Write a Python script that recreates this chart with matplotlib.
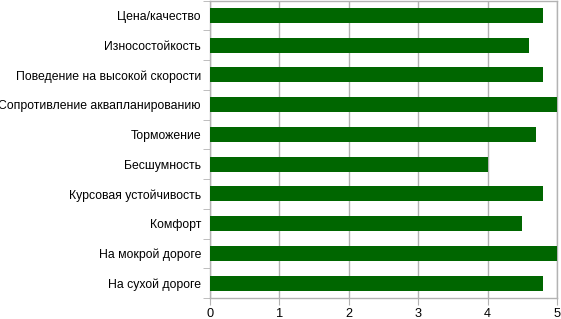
import matplotlib
matplotlib.use("Agg")
import matplotlib.pyplot as plt
import numpy as np

categories = ["Цена/качество", "Износостойкость", "Поведение на высокой скорости",
              "Сопротивление аквапланированию", "Торможение", "Бесшумность",
              "Курсовая устойчивость", "Комфорт", "На мокрой дороге", "На сухой дороге"]
values = [4.8, 4.6, 4.8, 5.0, 4.7, 4.0, 4.8, 4.5, 5.0, 4.8]
xticks = [0, 1, 2, 3, 4, 5]

plt.rcParams['font.family'] = ['Liberation Sans', 'DejaVu Sans']
fig = plt.figure(figsize=(5.61, 3.19), dpi=100)
ax = fig.add_axes([210/561, 1 - 298/319, (557-210)/561, (298-0.5)/319])

n = len(categories)
ypos = np.arange(n)[::-1]
ax.barh(ypos, values, height=0.5, color='#006600', zorder=3)
ax.set_xlim(0, 5)
ax.set_ylim(-0.5, n - 0.5)
ax.set_xticks(xticks)
ax.set_xticklabels([str(t) for t in xticks], fontsize=9.2)
ax.set_yticks(ypos)
ax.set_yticklabels(categories, fontsize=8.85)
ax.set_yticks(np.arange(-0.5, n, 1), minor=True)
ax.tick_params(axis='y', which='major', length=0, pad=6.5)
ax.tick_params(axis='y', which='minor', length=5, color='#b3b3b3')
ax.tick_params(axis='x', which='major', length=5, color='#b3b3b3', pad=2.5)
ax.grid(axis='x', color='#b3b3b3', linewidth=1, zorder=0)
for s in ax.spines.values():
    s.set_color('#b3b3b3')
    s.set_linewidth(1)
fig.savefig("out.png", dpi=100)
